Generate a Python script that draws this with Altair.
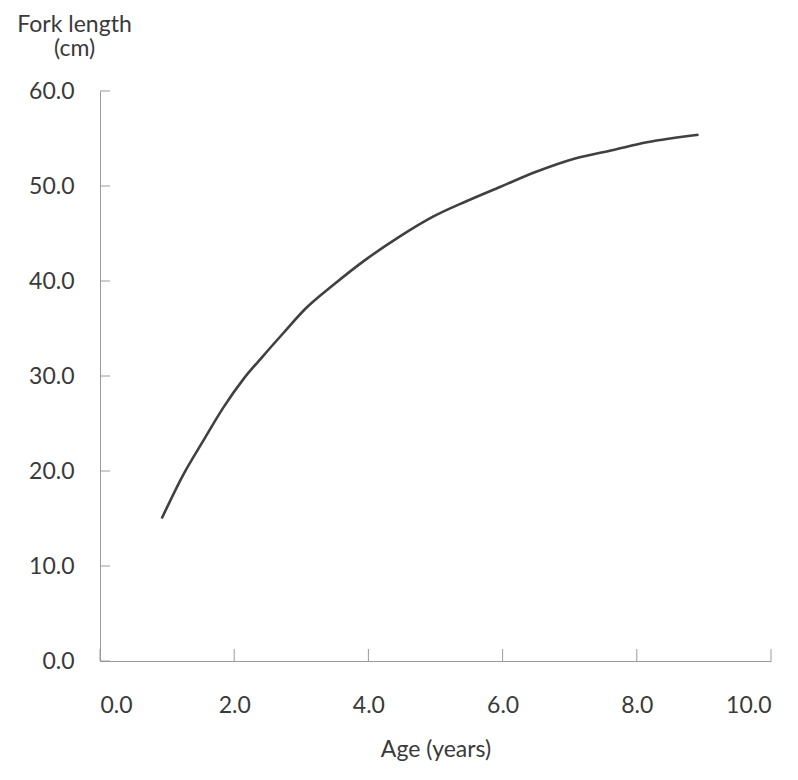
import altair as alt
import pandas as pd

# Data
ages = [0.92, 1.24, 1.54, 1.84, 2.14, 2.43, 2.73, 3.05, 3.48, 3.97, 4.47, 4.97,
        5.46, 5.96, 6.50, 7.08, 7.65, 8.15, 8.92]
lengths = [15.0, 19.6, 23.2, 26.7, 29.7, 32.1, 34.5, 37.0, 39.6, 42.3, 44.7, 46.8,
           48.4, 49.9, 51.5, 52.9, 53.8, 54.6, 55.4]
x_ticks = [0, 2, 4, 6, 8, 10]
y_ticks = [0, 10, 20, 30, 40, 50, 60]

W, H = 671, 570
FONT = "Lato"
FS = 23
TXT = "#3a3a3a"
AX = "#9a9a9a"

df = pd.DataFrame({"age": ages, "len": lengths})
xt = pd.DataFrame({"v": x_ticks})
yt = pd.DataFrame({"v": y_ticks})

xscale = alt.Scale(domain=[0, 10], nice=False, zero=False)
yscale = alt.Scale(domain=[0, 60], nice=False, zero=False)

line = alt.Chart(df).mark_line(color="#404040", strokeWidth=2.6, interpolate="monotone").encode(
    x=alt.X("age:Q", scale=xscale,
            axis=alt.Axis(values=x_ticks, format=".1f", title="Age (years)",
                          ticks=False, tickSize=0, labelPadding=33, grid=False,
                          domainColor=AX, labelFont=FONT, labelFontSize=FS,
                          labelColor=TXT, titleFont=FONT, titleFontSize=FS,
                          titleFontWeight="normal", titleColor=TXT,
                          titleBaseline="alphabetic", titleY=95)),
    y=alt.Y("len:Q", scale=yscale,
            axis=alt.Axis(values=y_ticks, format=".1f", title=["Fork length", "(cm)"],
                          ticks=False, tickSize=0, labelPadding=26, grid=False,
                          domainColor=AX, labelFont=FONT, labelFontSize=FS,
                          labelColor=TXT, titleFont=FONT, titleFontSize=FS,
                          titleFontWeight="normal", titleColor=TXT,
                          titleAngle=0, titleAlign="center", titleBaseline="top",
                          titleX=-26, titleY=-78, titleLineHeight=24)),
)

ytick_rules = alt.Chart(yt).mark_rule(color=AX, strokeWidth=1).encode(
    y=alt.Y("v:Q", scale=yscale),
    x=alt.value(0), x2=alt.value(10),
)
xtick_rules = alt.Chart(xt).mark_rule(color=AX, strokeWidth=1).encode(
    x=alt.X("v:Q", scale=xscale),
    y=alt.value(H - 12), y2=alt.value(H),
)

chart = alt.layer(line, ytick_rules, xtick_rules).properties(
    width=W, height=H,
    background="white",
    autosize=alt.AutoSizeParams(type="none"),
    padding={"left": 92, "top": 83, "right": 19, "bottom": 105},
).configure_view(strokeWidth=0, stroke="transparent")

chart.save("out.html", embed_options={"renderer": "svg", "actions": False})
